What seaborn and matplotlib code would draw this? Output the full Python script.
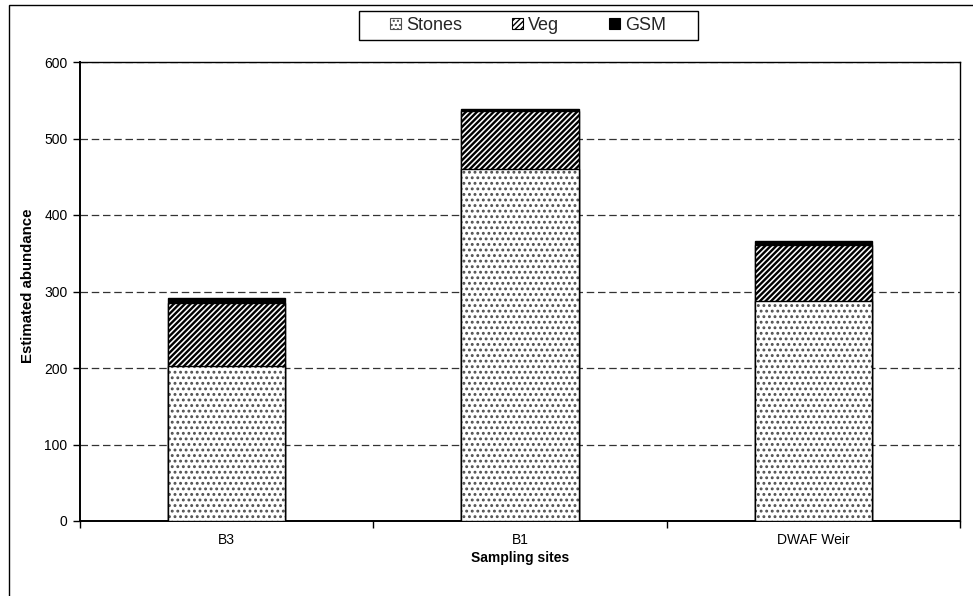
import matplotlib
matplotlib.use("Agg")
import matplotlib.pyplot as plt
from matplotlib.patches import Patch, Rectangle
import seaborn as sns

# Estimated abundance per habitat at each sampling site
sites = ["B3", "B1", "DWAF Weir"]
stones = [203, 460, 287]
veg = [82, 76, 74]
gsm = [6, 3, 5]

y_ticks = [0, 100, 200, 300, 400, 500, 600]
legend_labels = ["Stones", "Veg", "GSM"]

sns.set_theme(style="white")
plt.rcParams["font.family"] = ["Liberation Sans", "DejaVu Sans"]

fig = plt.figure(figsize=(9.73, 5.96), dpi=100)
ax = fig.add_axes([80 / 973, 75 / 596, 880 / 973, 459 / 596])

stones_veg = [s + v for s, v in zip(stones, veg)]
totals = [s + v + g for s, v, g in zip(stones, veg, gsm)]

bar_w = 0.4

# GSM: the full stack in solid black
sns.barplot(x=sites, y=totals, color="black", saturation=1, width=bar_w,
            edgecolor="black", linewidth=1.0, ax=ax, zorder=3)

# Veg: dense diagonal stripes
with plt.rc_context({"hatch.linewidth": 1.7}):
    sns.barplot(x=sites, y=stones_veg, color="white", saturation=1, width=bar_w,
                edgecolor="black", linewidth=1.0, hatch="//////", ax=ax, zorder=4)

# Stones: grey dot pattern with a black outline
with plt.rc_context({"hatch.linewidth": 1.3}):
    n1 = len(ax.patches)
    sns.barplot(x=sites, y=stones, color="white", saturation=1, width=bar_w,
                edgecolor="#505050", linewidth=0, hatch="...", ax=ax, zorder=5)
for p in list(ax.patches[n1:]):
    ax.add_patch(Rectangle(p.get_xy(), p.get_width(), p.get_height(),
                           fill=False, edgecolor="black", linewidth=1.0, zorder=6))

ax.set_ylim(0, 600)
ax.set_xlim(-0.5, len(sites) - 0.5)
ax.set_yticks(y_ticks)
ax.set_yticklabels([str(t) for t in y_ticks])

# dashed horizontal gridlines
ax.set_axisbelow(True)
ax.yaxis.grid(True, color="#333333", linestyle=(0, (6, 3)), linewidth=0.9)
ax.xaxis.grid(False)

for s in ax.spines.values():
    s.set_visible(True)
    s.set_color("black")
    s.set_linewidth(1.0)
ax.spines["left"].set_linewidth(1.4)
ax.spines["bottom"].set_linewidth(1.4)

# category boundary ticks on the x axis
ax.set_xticks([i - 0.5 for i in range(len(sites) + 1)], minor=True)
ax.tick_params(axis="x", which="minor", bottom=True, length=5, width=1, color="black")
ax.tick_params(axis="x", which="major", bottom=True, length=0, pad=9,
               labelsize=10, labelcolor="black")
ax.tick_params(axis="y", which="major", left=True, length=5, width=1, color="black",
               pad=4, labelsize=10, labelcolor="black")

ax.set_xlabel("Sampling sites", fontsize=10, fontweight="bold", color="black")
ax.set_ylabel("Estimated abundance", fontsize=10.8, fontweight="bold", color="black")
ax.xaxis.set_label_coords(0.5, -0.066)
ax.yaxis.set_label_coords(-0.0515, 0.513)

# legend across the top
handles = [
    Patch(facecolor="white", edgecolor="#505050", hatch="....", linewidth=0.8),
    Patch(facecolor="white", edgecolor="black", hatch="//////", linewidth=0.8),
    Patch(facecolor="black", edgecolor="black", linewidth=0.8),
]
leg = fig.legend(handles, legend_labels, loc="center", ncol=3,
                 bbox_to_anchor=(528 / 973, 1 - 25.5 / 596), frameon=False,
                 fontsize=13, handlelength=0.6, handleheight=0.6,
                 handletextpad=0.25, columnspacing=2.8, borderpad=0.2)
fig.add_artist(Rectangle((359 / 973, 1 - 40 / 596), 339 / 973, 29 / 596,
                         transform=fig.transFigure, fill=False,
                         edgecolor="black", linewidth=1.0))

# outer chart border
fig.add_artist(Rectangle((9 / 973, -0.1), 1.2, 1.1 - 4.5 / 596,
                         transform=fig.transFigure, fill=False,
                         edgecolor="black", linewidth=1.0, clip_on=False))

fig.savefig("out.png", dpi=100, facecolor="white")
